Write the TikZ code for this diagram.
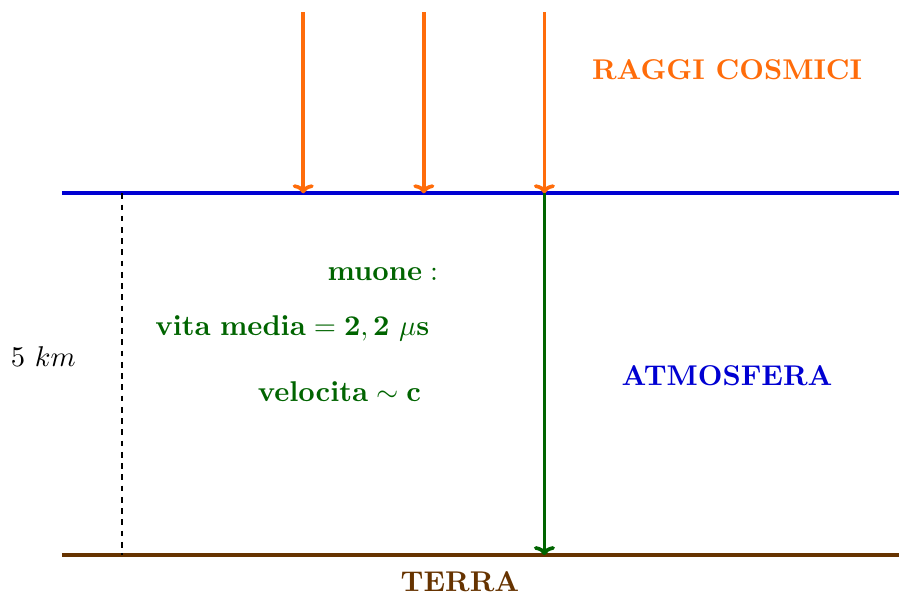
\documentclass[tikz,border=0pt]{standalone}
\usetikzlibrary{arrows.meta}
\definecolor{raggi}{RGB}{255,108,10}
\definecolor{atmo}{RGB}{0,0,210}
\definecolor{muon}{RGB}{0,100,0}
\definecolor{terra}{RGB}{102,51,0}
\begin{document}
\begin{tikzpicture}[x=0.7538cm,y=0.7538cm,
  every node/.style={scale=1.016},
  ray/.style={line width=1.3pt,color=raggi,-{To[length=3.2pt,width=7.5pt]}},
  muonarrow/.style={line width=1.3pt,color=muon,-{To[length=3.2pt,width=7.5pt]}},
  lbl/.style={font=\bfseries},
  ]
\useasboundingbox (-1.028,-0.645) rectangle (13.88,9.205);
% ground and atmosphere top
\coordinate (a0) at (0,6);
\coordinate (a1) at (13.88,6);
\coordinate (t0) at (0,0);
\coordinate (t1) at (13.88,0);
\draw[line width=1.3pt,color=atmo] (a0) -- (a1);
\draw[line width=1.3pt,color=terra] (t0) -- (t1);
% cosmic rays
\coordinate (r1s) at (4,9); \coordinate (r1e) at (4,6);
\coordinate (r2s) at (6,9); \coordinate (r2e) at (6,6);
\coordinate (r3s) at (8,9); \coordinate (r3e) at (8,6);
\coordinate (m0) at (8,0);
\draw[ray] (r1s) -- (r1e);
\draw[ray] (r2s) -- (r2e);
\draw[ray] (r3s) -- (r3e);
\draw[muonarrow] (r3e) -- (m0);
% height
\coordinate (d0) at (1,6);
\coordinate (d1) at (1,0);
\draw[line width=0.6pt,dash pattern=on 2pt off 2pt] (d0) -- (d1);
\node (km) at (-0.31,3.3) {$5\ km$};
% labels
\node[lbl,text=raggi] (rc) at (11.03,8.05) {RAGGI COSMICI};
\node[lbl,text=atmo] (at) at (11.03,2.97) {ATMOSFERA};
\node[lbl,text=terra] (te) at (6.6,-0.44) {TERRA};
\node[text=muon] (mu) at (5.32,4.66) {$\mathbf{muone:}$};
\node[text=muon] (vm) at (3.82,3.76) {$\mathbf{vita\ media = 2,2\ \mu s}$};
\node[text=muon] (ve) at (4.6,2.71) {$\mathbf{velocita \sim c}$};
\end{tikzpicture}
\end{document}
